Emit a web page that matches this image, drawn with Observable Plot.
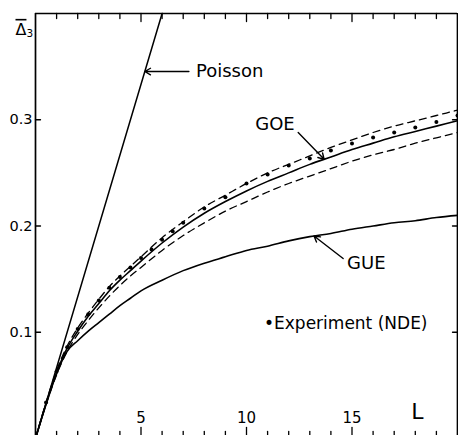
<!DOCTYPE html>
<html>
<head>
<meta charset="utf-8">
<script src="https://cdn.jsdelivr.net/npm/d3@7"></script>
<script src="https://cdn.jsdelivr.net/npm/@observablehq/plot@0.6"></script>
<style>
  html, body { margin: 0; padding: 0; background: #fff; }
  svg { display: block; }
</style>
</head>
<body>
<div id="chart"></div>
<script>
// Spectral rigidity Δ3(L): random-matrix predictions and the nuclear data ensemble.
const curveL   = [0, 0.5, 1, 1.5, 2, 2.5, 3, 3.5, 4, 4.5, 5, 6, 7, 8, 9, 10, 11, 12, 13, 14, 15, 16, 17, 18, 19, 20];
const goe      = [0, .033, .062, .085, .101, .115, .127, .139, .149, .158, .167, .184, .199, .212, .223, .233, .242, .250, .258, .265, .272, .278, .284, .289, .294, .299];
const goeUpper = [0, .034, .064, .087, .104, .118, .131, .143, .153, .162, .171, .189, .204, .218, .229, .240, .250, .258, .266, .274, .281, .288, .294, .299, .304, .309];
const goeLower = [0, .032, .060, .082, .098, .111, .123, .134, .144, .153, .161, .177, .191, .203, .214, .223, .232, .240, .247, .254, .261, .267, .272, .278, .283, .288];
const gue      = [0, .032, .061, .082, .092, .101, .109, .117, .125, .132, .139, .149, .158, .165, .171, .177, .181, .186, .190, .193, .197, .200, .203, .205, .208, .210];

const poissonL   = [0, 6];
const poissonVal = [0, 0.4];

const expL   = [0.5, 1, 1.5, 2, 2.5, 3, 3.5, 4, 4.5, 5, 5.5, 6, 6.5, 7, 8, 9, 10, 11, 12, 13, 14, 15, 16, 17, 18, 19, 20];
const expVal = [.034, .063, .086, .103, .117, .130, .142, .152, .161, .170, .178, .187, .195, .203, .2165, .227, .240, .2485, .257, .2635, .271, .2776, .2833, .288, .2927, .298, .304];

const xTickMinor  = [1, 2, 3, 4, 6, 7, 8, 9, 11, 12, 13, 14, 16, 17, 18, 19];
const xTickMajor  = [5, 10, 15];
const xTickLabels = ["5", "10", "15"];
const yTicks      = [0.1, 0.2, 0.3];
const yTickLabels = ["0.1", "0.2", "0.3"];

// Curve annotations: label centre, arrow start, and the L where the arrow meets its curve.
const annotations = [
  {text: "Poisson", curve: "poisson", tx: 9.2,   ty: 0.3454, ax: 7.27,  ay: 0.3454, tipL: null},
  {text: "GOE",     curve: "goe",     tx: 11.35, ty: 0.2955, ax: 12.45, ay: 0.288,  tipL: 13.68},
  {text: "GUE",     curve: "gue",     tx: 15.68, ty: 0.1647, ax: 14.58, ay: 0.1694, tipL: 13.2}
];

const table = curveL.map((l, i) => ({L: l, goe: goe[i], upper: goeUpper[i], lower: goeLower[i], gue: gue[i]}));
const poisson = poissonL.map((l, i) => ({L: l, v: poissonVal[i]}));
const experiment = expL.map((l, i) => ({L: l, v: expVal[i]}));

const lookup = {
  goe: d3.scaleLinear(curveL, goe),
  gue: d3.scaleLinear(curveL, gue)
};
const arrows = annotations.map(a => {
  let tipL, tipY;
  if (a.curve === "poisson") {
    tipY = a.ay;
    tipL = d3.scaleLinear(poissonVal, poissonL)(a.ay);
  } else {
    tipL = a.tipL;
    tipY = lookup[a.curve](a.tipL);
  }
  return {x1: a.ax, y1: a.ay, x2: tipL, y2: tipY};
});

// Inward-pointing tick drawn as a short stroke from the anchor point.
const tickShape = {draw(context, l) { context.moveTo(0, 0); context.lineTo(0, -l); }};

const font = "DejaVu Sans, Liberation Sans, sans-serif";
const xMax = 20, yMax = 0.4;

const chart = Plot.plot({
  width: 458,
  height: 435,
  marginLeft: 35,
  marginRight: 1,
  marginTop: 13,
  marginBottom: 0,
  style: {fontFamily: font, background: "#fff", color: "#000"},
  x: {domain: [0, xMax], axis: null},
  y: {domain: [0, yMax], range: [438, 13], axis: null},
  marks: [
    // frame
    Plot.ruleX([0, xMax], {y1: 0, y2: yMax, strokeWidth: 1.7}),
    Plot.ruleY([0, yMax], {x1: 0, x2: xMax, strokeWidth: 1.7}),
    // ticks along top and bottom
    Plot.vector(xTickMinor, {x: d => d, y: yMax, length: 5, rotate: 180, anchor: "start", shape: tickShape, strokeWidth: 1.3}),
    Plot.vector(xTickMajor, {x: d => d, y: yMax, length: 8, rotate: 180, anchor: "start", shape: tickShape, strokeWidth: 1.3}),
    Plot.vector(xTickMinor, {x: d => d, y: 0, length: 7, rotate: 0, anchor: "start", shape: tickShape, strokeWidth: 1.3}),
    Plot.vector(xTickMajor, {x: d => d, y: 0, length: 11, rotate: 0, anchor: "start", shape: tickShape, strokeWidth: 1.3}),
    // ticks along left and right
    Plot.vector(yTicks, {x: 0, y: d => d, length: 5, rotate: 90, anchor: "start", shape: tickShape, strokeWidth: 1.3}),
    Plot.vector(yTicks, {x: xMax, y: d => d, length: 5, rotate: -90, anchor: "start", shape: tickShape, strokeWidth: 1.3}),
    // tick labels
    Plot.text(yTicks, {x: 0, y: d => d, text: (d, i) => yTickLabels[i], textAnchor: "end", dx: -3, fontSize: 14.5}),
    Plot.text(xTickMajor, {x: d => d, y: 0, text: (d, i) => xTickLabels[i], dy: -20, fontSize: 15}),
    Plot.text(["L"], {frameAnchor: "bottom-right", dx: -34, dy: -17, fontSize: 22}),
    // axis title: Δ (overlined below) with subscript 3
    Plot.text(["\u0394"], {frameAnchor: "top-left", dx: -20, dy: 10, fontSize: 16}),
    Plot.text(["3"], {frameAnchor: "top-left", dx: -9, dy: 16, fontSize: 10.5}),
    // curves
    Plot.line(poisson, {x: "L", y: "v", strokeWidth: 1.5}),
    Plot.line(table, {x: "L", y: "upper", curve: "monotone-x", strokeWidth: 1.3, strokeDasharray: "7,5"}),
    Plot.line(table, {x: "L", y: "lower", curve: "monotone-x", strokeWidth: 1.3, strokeDasharray: "7,5"}),
    Plot.line(table, {x: "L", y: "goe", curve: "monotone-x", strokeWidth: 1.6}),
    Plot.line(table, {x: "L", y: "gue", curve: "monotone-x", strokeWidth: 1.6}),
    Plot.dot(experiment, {x: "L", y: "v", r: 2, fill: "#000", stroke: "none"}),
    // annotations
    Plot.arrow(arrows, {x1: "x1", y1: "y1", x2: "x2", y2: "y2", headLength: 7, strokeWidth: 1.4}),
    Plot.text(annotations, {x: "tx", y: "ty", text: "text", fontSize: 18}),
    Plot.text(["\u2022Experiment (NDE)"], {frameAnchor: "bottom-right", textAnchor: "end", dx: -30, dy: -107, fontSize: 17})
  ]
});

// The mean of Δ3 is marked with a bar over the Δ.
d3.select(chart).selectAll("text")
  .filter(function () { return this.textContent === "\u0394"; })
  .style("text-decoration", "overline");

document.getElementById("chart").appendChild(chart);
</script>
</body>
</html>
